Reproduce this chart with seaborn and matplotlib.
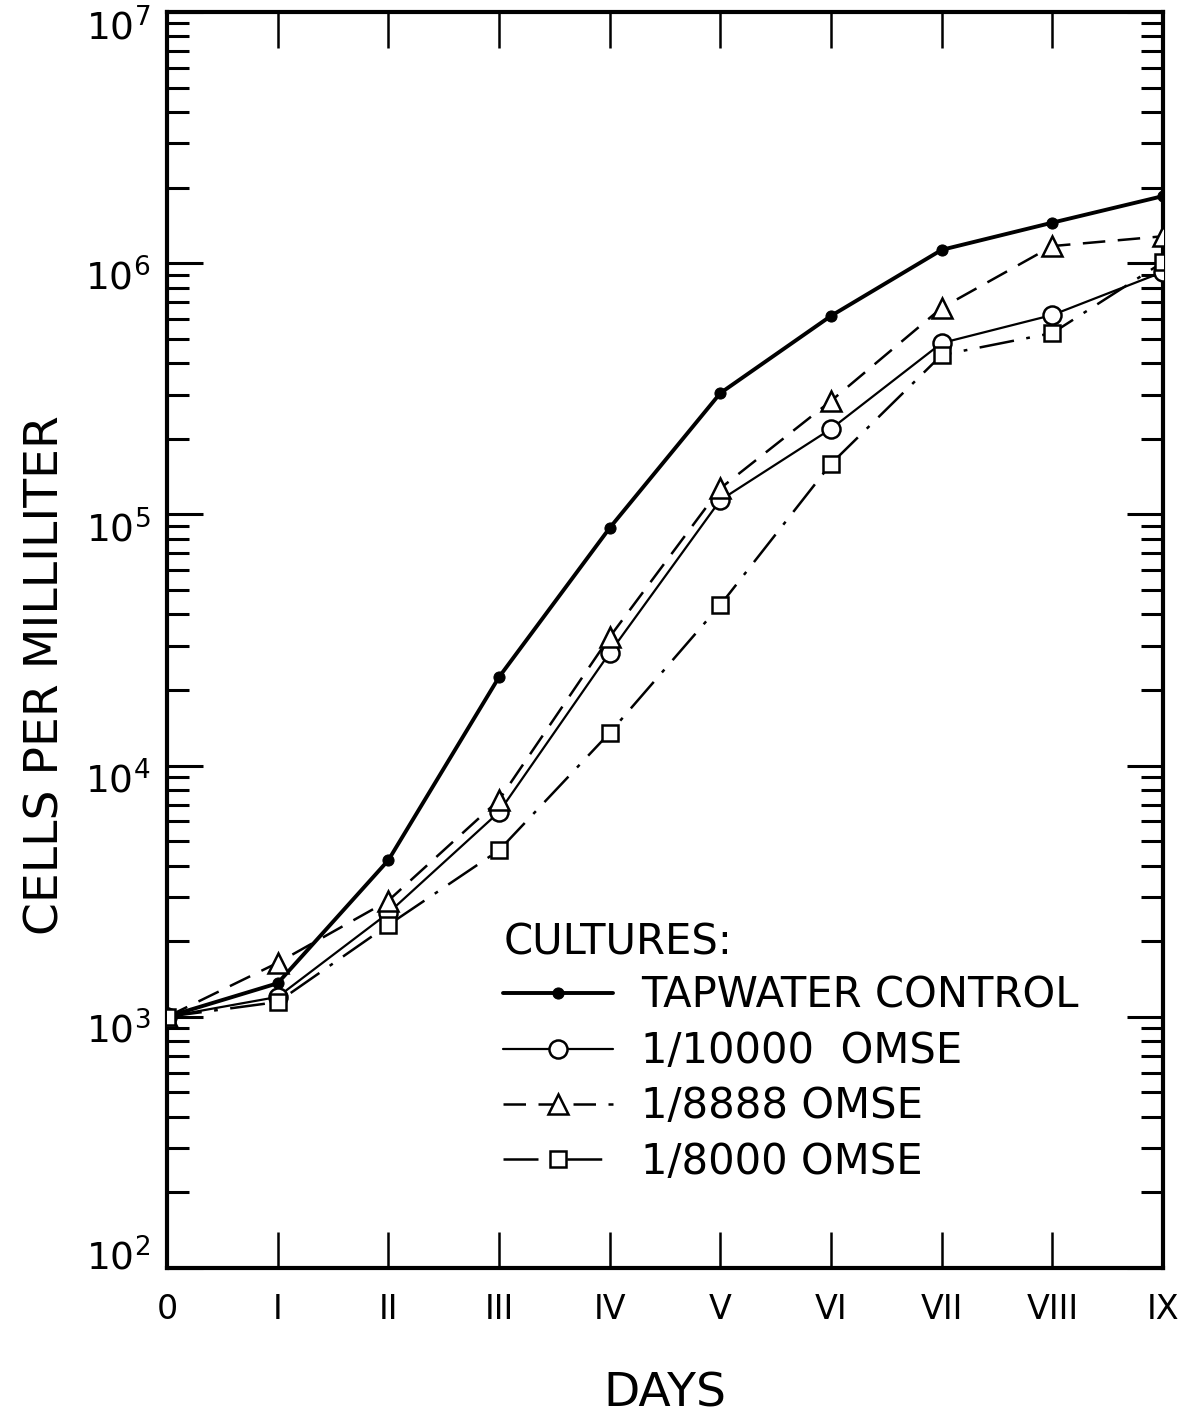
import numpy as np
import pandas as pd
import matplotlib
matplotlib.use("Agg")
import matplotlib.pyplot as plt
import matplotlib.transforms as mtransforms
import seaborn as sns
from matplotlib.ticker import LogLocator, NullFormatter

# ---- data ----
days = [0, 1, 2, 3, 4, 5, 6, 7, 8, 9]
day_labels = ["0", "I", "II", "III", "IV", "V", "VI", "VII", "VIII", "IX"]
tapwater = [1000, 1360, 4200, 22500, 88300, 304000, 617000, 1130000, 1450000, 1850000]
omse_10000 = [1000, 1200, 2590, 6530, 28100, 114000, 219000, 481000, 622000, 923000]
omse_8888 = [1000, 1640, 2900, 7300, 32500, 127000, 283000, 664000, 1170000, 1280000]
omse_8000 = [1000, 1145, 2320, 4600, 13500, 43600, 159000, 431000, 527000, 1010000]
series_labels = ["TAPWATER CONTROL", "1/10000  OMSE", "1/8888 OMSE", "1/8000 OMSE"]
legend_title = "CULTURES:"
y_decades = [2, 3, 4, 5, 6, 7]

sns.set_style("ticks")
plt.rcParams['font.family'] = ['DejaVu Sans']
plt.rcParams['mathtext.default'] = 'regular'
for k in ['text.color', 'axes.labelcolor', 'xtick.color', 'ytick.color', 'axes.edgecolor']:
    plt.rcParams[k] = 'black'

fig = plt.figure(figsize=(11.8, 14.18), dpi=100)
ax = fig.add_axes([167/1180, 1 - 1268/1418, (1163-167)/1180, (1268-12)/1418])

styles = [
    dict(y=tapwater, marker='o', markersize=8, mfc='black', mec='black', lw=2.8, linestyle='-'),
    dict(y=omse_10000, marker='o', markersize=13, mfc='white', mec='black', mew=1.8, lw=1.6, linestyle='-'),
    dict(y=omse_8888, marker='^', markersize=15, mfc='white', mec='black', mew=1.8, lw=1.8, dashes=(9, 5)),
    dict(y=omse_8000, marker='s', markersize=12, mfc='white', mec='black', mew=1.8, lw=1.8, dashes=(14, 5, 1.5, 5)),
]

for st, lab in zip(styles, series_labels):
    st = dict(st)
    yv = st.pop("y")
    sns.lineplot(x=days, y=yv, ax=ax, color='black', label=lab, zorder=3, **st)

ax.set_yscale('log')
ax.set_xlim(0, 9)
ax.set_ylim(1e2, 1e7)

ax.set_xticks(days)
ax.set_xticklabels(day_labels)
ax.set_yticks([10.0**d for d in y_decades])
ax.set_yticklabels([r'$\mathregular{10^{%d}}$' % d for d in y_decades])
ax.yaxis.set_minor_locator(LogLocator(base=10, subs=np.arange(2, 10), numticks=20))
ax.yaxis.set_minor_formatter(NullFormatter())

for sp in ax.spines.values():
    sp.set_linewidth(3)
    sp.set_visible(True)
    sp.set_color('black')

ax.tick_params(axis='x', which='major', direction='in', length=26, width=1.8,
               top=True, bottom=True, labelsize=24, pad=18)
ax.tick_params(axis='y', which='major', direction='in', length=26, width=2.2,
               left=True, right=True, labelsize=27, pad=12)
ax.tick_params(axis='y', which='minor', direction='in', length=16, width=2.2,
               left=True, right=True)

# shift y tick labels like the original lettering (digits hang below the tick)
for d, lbl in zip(y_decades, ax.get_yticklabels()):
    dy = 13/100 if d == 2 else -11/100
    lbl.set_transform(lbl.get_transform() + mtransforms.ScaledTranslation(0, dy, fig.dpi_scale_trans))

ax.set_xlabel("DAYS", fontsize=34, labelpad=33)
ax.set_ylabel("CELLS PER MILLILITER", fontsize=34, labelpad=12, y=0.472)

leg = ax.legend(title=legend_title, loc='upper left', bbox_to_anchor=(0.321, 0.289),
                frameon=False, fontsize=30, title_fontsize=30, handlelength=2.64,
                handletextpad=0.67, labelspacing=0.32, borderaxespad=0, alignment='left')
leg._legend_box.sep = 8

fig.savefig("out.png", dpi=100, facecolor='white')
